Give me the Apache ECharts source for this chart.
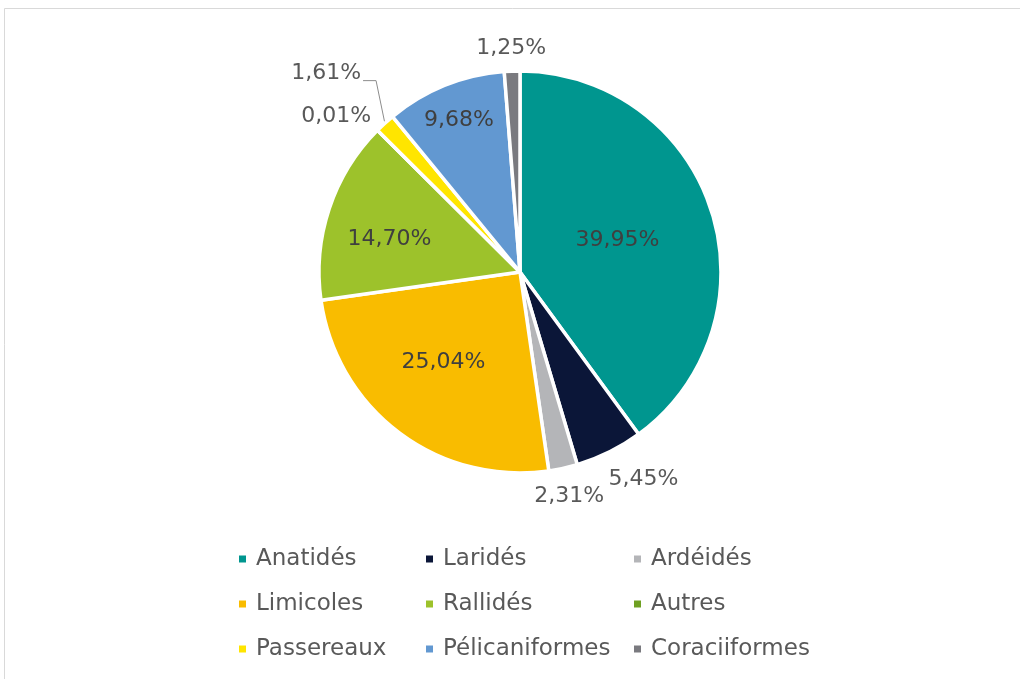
<!DOCTYPE html>
<html>
<head>
<meta charset="utf-8">
<script src="https://cdn.jsdelivr.net/npm/echarts@6/dist/echarts.min.js"></script>
<style>
  html, body { margin: 0; padding: 0; background: #ffffff; }
  #chart { width: 1020px; height: 679px; }
</style>
</head>
<body>
<div id="chart"></div>
<script>
// Répartition des effectifs par groupe d'oiseaux (%)
const categories = ['Anatidés', 'Laridés', 'Ardéidés', 'Limicoles', 'Rallidés', 'Autres', 'Passereaux', 'Pélicaniformes', 'Coraciiformes'];
const shares = [39.95, 5.45, 2.31, 25.04, 14.70, 0.01, 1.61, 9.68, 1.25];
const colors = ['#00968F', '#0B1638', '#B4B5B8', '#F9BC00', '#9DC22B', '#6FA022', '#FFE500', '#6298D1', '#7A7A7F'];

// Legend columns (indices into categories)
const legendColumns = [[0, 3, 6], [1, 4, 7], [2, 5, 8]];

// Label placement: radius as a fraction of the pie radius, and a small angular nudge (degrees)
const labelInside = [true, false, false, true, true, false, false, true, false];
const labelRadius = [0.51, 1.2, 1.14, 0.59, 0.67, 1.2, 1.38, 0.815, 1.115];
const labelTurn = [0, -4.4, 0, 3.4, -4.2, -4.5, -2.1, 0, 0];
const leaderLine = [false, false, false, false, false, false, true, false, false];

const CX = 520, CY = 272, R = 201;
const FONT = 'DejaVu Sans';

const total = shares.reduce((a, b) => a + b, 0);
const midAngles = [];
let acc = 0;
shares.forEach(v => {
  midAngles.push((acc + v / 2) / total * 360);
  acc += v;
});

function polar(r, deg) {
  const a = deg * Math.PI / 180;
  return [CX + r * Math.sin(a), CY - r * Math.cos(a)];
}

const chart = echarts.init(document.getElementById('chart'), null, { renderer: 'canvas' });

const data = categories.map((name, i) => ({
  name: name,
  value: shares[i],
  itemStyle: { color: colors[i] },
  label: {
    position: labelInside[i] ? 'inside' : 'outside',
    color: labelInside[i] ? '#3f3f3f' : '#595959'
  },
  labelLine: { show: leaderLine[i] }
}));

const legends = legendColumns.map((col, k) => ({
  orient: 'vertical',
  left: [237, 424, 632][k],
  top: 547,
  padding: 0,
  itemGap: 21,
  itemWidth: 9,
  itemHeight: 9,
  icon: 'rect',
  selectedMode: false,
  data: col.map(i => categories[i]),
  textStyle: {
    fontFamily: FONT,
    fontSize: 23,
    lineHeight: 24,
    color: '#595959',
    padding: [0, 0, 0, 4]
  }
}));

chart.setOption({
  animation: false,
  color: colors,
  graphic: [{
    type: 'rect',
    shape: { x: 4.5, y: 8.5, width: 1100, height: 700 },
    style: { fill: 'none', stroke: '#d9d9d9', lineWidth: 1 },
    silent: true
  }],
  legend: legends,
  series: [{
    type: 'pie',
    center: [CX, CY],
    radius: [0, R],
    startAngle: 90,
    clockwise: true,
    avoidLabelOverlap: false,
    itemStyle: { borderColor: '#ffffff', borderWidth: 3.5 },
    label: {
      show: true,
      fontFamily: FONT,
      fontSize: 22,
      formatter: p => p.value.toFixed(2).replace('.', ',') + '%'
    },
    labelLine: {
      show: false,
      lineStyle: { color: '#8c8c8c', width: 1 }
    },
    labelLayout: function (params) {
      const i = params.dataIndex;
      const pos = polar(R * labelRadius[i], midAngles[i] + labelTurn[i]);
      const out = { x: pos[0], y: pos[1], align: 'center', verticalAlign: 'middle' };
      if (leaderLine[i]) {
        const w = params.labelRect.width;
        const right = pos[0] + w / 2;
        const edge = polar(R, midAngles[i]);
        out.labelLinePoints = [edge, [right + 15, pos[1] + 7], [right + 2, pos[1] + 7]];
      }
      return out;
    },
    data: data
  }]
});
</script>
</body>
</html>
